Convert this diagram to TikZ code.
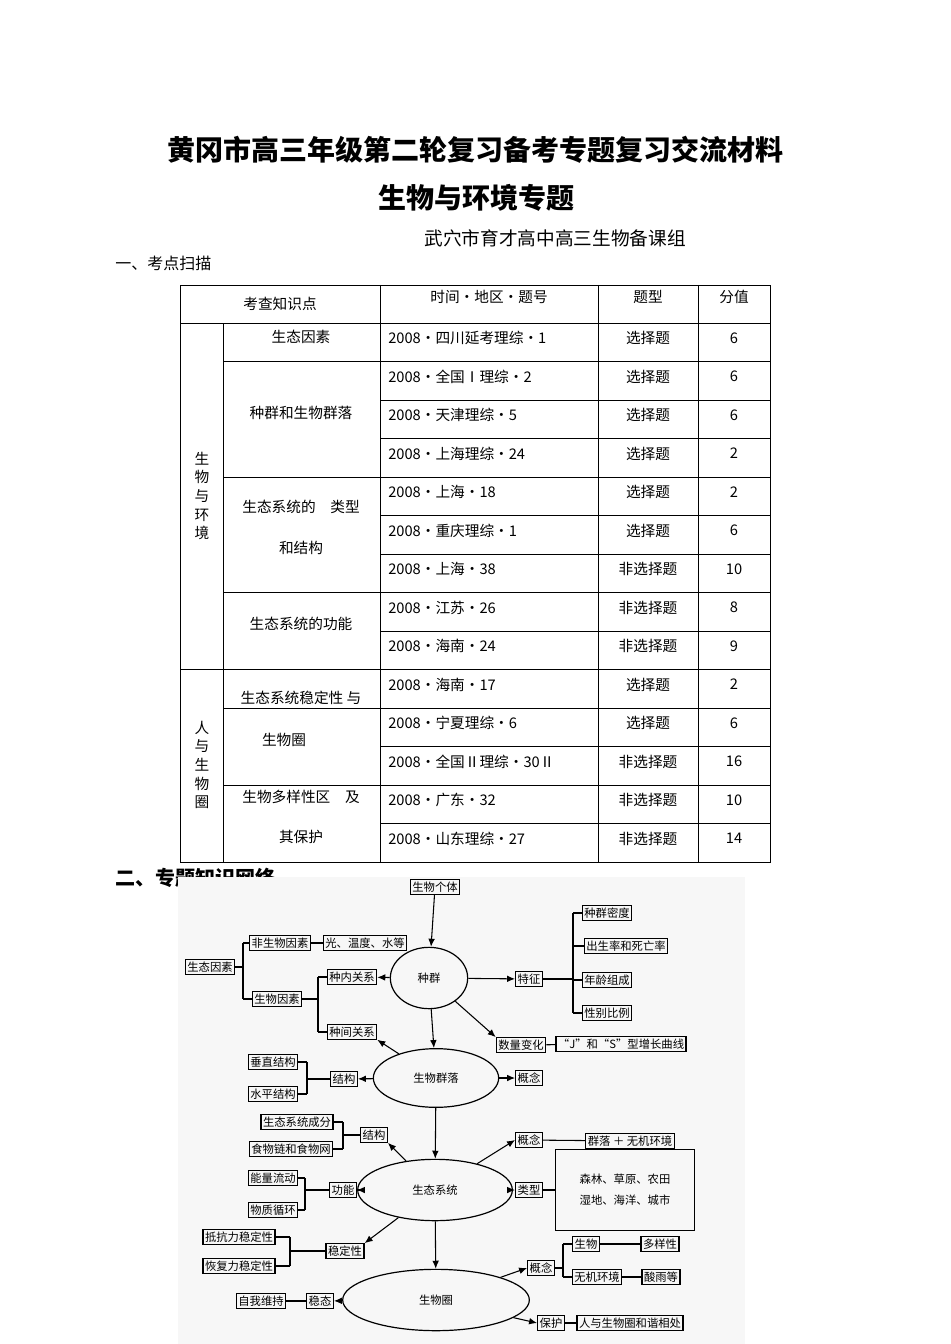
\documentclass[tikz,border=0pt]{standalone}
\usepackage{fontspec}
\setmainfont{Noto Sans CJK SC}
\usetikzlibrary{arrows.meta,shapes.geometric}
\begin{document}
\begin{tikzpicture}[x=0.75pt,y=-0.75pt,
  tb/.style={font=\fontsize{11}{13}\selectfont,inner sep=0pt},
  bx/.style={draw,line width=0.9pt,font=\fontsize{8.5}{10}\selectfont,inner sep=1.5pt},
  el/.style={draw,ellipse,line width=0.9pt,font=\fontsize{8.5}{10}\selectfont,inner sep=0pt},
  ar/.style={-{Latex[length=6pt,width=5pt]},line width=0.8pt},
  ln/.style={line width=0.8pt}]
\useasboundingbox (0,0) rectangle (950,1344);
% titles
\node[font=\fontsize{21}{24}\selectfont\bfseries] (t1) at (475,150) {黄冈市高三年级第二轮复习备考专题复习交流材料};
\node[font=\fontsize{21}{24}\selectfont\bfseries] (t2) at (476,198) {生物与环境专题};
\node[font=\fontsize{14}{16}\selectfont] (t3) at (555,238) {武穴市育才高中高三生物备课组};
\node[font=\fontsize{12}{14}\selectfont,anchor=west,inner sep=0pt] (t4) at (115,263) {一、考点扫描};
% table
\draw[line width=0.6pt] (180,285) rectangle (770,862);
\draw[line width=0.6pt] (180,323) -- (770,323);
\foreach \x in {380,598,698} \draw[line width=0.6pt] (\x,285) -- (\x,862);
\draw[line width=0.6pt] (223,323) -- (223,862);
\foreach \k in {1,...,13} \draw[line width=0.6pt] (380,{323+38.5*\k}) -- (770,{323+38.5*\k});
\foreach \k in {1,4,7} \draw[line width=0.6pt] (223,{323+38.5*\k}) -- (380,{323+38.5*\k});
\foreach \k in {10,12} \draw[line width=0.6pt] (223,{323+38.5*\k}) -- (380,{323+38.5*\k});
\draw[line width=0.6pt] (180,{323+38.5*9}) -- (380,{323+38.5*9});
\node[tb] (h1) at (280,304) {考查知识点};
\node[tb] (h2) at (489,297) {时间·地区·题号};
\node[tb] (h3) at (648,297) {题型};
\node[tb] (h4) at (734,297) {分值};
\node[tb,align=center,font=\fontsize{11}{14}\selectfont] (g1) at (202,496) {生\\物\\与\\环\\境};
\node[tb,align=center,font=\fontsize{11}{14}\selectfont] (g2) at (202,765) {人\\与\\生\\物\\圈};
\node[tb] (c1) at (301,337) {生态因素};
\node[tb] (c2) at (301,413) {种群和生物群落};
\node[tb] (c3) at (301,507) {生态系统的\quad 类型};
\node[tb] (c3b) at (301,548) {和结构};
\node[tb] (c4) at (301,624) {生态系统的功能};
\node[tb] (c5) at (301,698) {生态系统稳定性 与};
\node[tb] (c5b) at (284,740) {生物圈};
\node[tb] (c6) at (301,797) {生物多样性区\quad 及};
\node[tb] (c6b) at (301,837) {其保护};
\foreach \i/\a/\b/\c in {
 1/2008•四川延考理综•1/选择题/6,
 2/2008•全国Ⅰ理综•2/选择题/6,
 3/2008•天津理综•5/选择题/6,
 4/2008•上海理综•24/选择题/2,
 5/2008•上海•18/选择题/2,
 6/2008•重庆理综•1/选择题/6,
 7/2008•上海•38/非选择题/10,
 8/2008•江苏•26/非选择题/8,
 9/2008•海南•24/非选择题/9,
 10/2008•海南•17/选择题/2,
 11/2008•宁夏理综•6/选择题/6,
 12/2008•全国Ⅱ理综•30Ⅱ/非选择题/16,
 13/2008•广东•32/非选择题/10,
 14/2008•山东理综•27/非选择题/14} {
 \node[tb,anchor=west] (ra\i) at (388,{323+38.5*(\i-1)+15}) {\a};
 \node[tb] (rb\i) at (648,{323+38.5*(\i-1)+15}) {\b};
 \node[tb] (rc\i) at (734,{323+38.5*(\i-1)+15}) {\c};
}
% section 2
\node[font=\fontsize{15}{18}\selectfont\bfseries,anchor=west,inner sep=0pt] (s2) at (115,878) {二、专题知识网络};
\fill[gray!6] (178,877) rectangle (745,1344);
% mind map nodes
\node[bx] (gt) at (435,887) {生物个体};
\node[el,minimum width=58,minimum height=46] (zq) at (429,978) {种群};
\node[bx] (tz) at (529,979) {特征};
\node[bx] (md) at (607,913) {种群密度};
\node[bx] (cs) at (626,946) {出生率和死亡率};
\node[bx] (nl) at (607,980) {年龄组成};
\node[bx] (xb) at (607,1013) {性别比例};
\node[bx] (sl) at (521,1045) {数量变化};
\node[bx] (js) at (621,1044) {“J”和“S”型增长曲线};
\node[bx] (stys) at (210,967) {生态因素};
\node[bx] (fsw) at (280,943) {非生物因素};
\node[bx] (gw) at (365,943) {光、温度、水等};
\node[bx] (swys) at (277,999) {生物因素};
\node[bx] (zn) at (352,977) {种内关系};
\node[bx] (zj) at (352,1032) {种间关系};
\node[el,minimum width=94,minimum height=44] (ql) at (436,1078) {生物群落};
\node[bx] (gn1) at (529,1078) {概念};
\node[bx] (jg1) at (344,1079) {结构};
\node[bx] (cz) at (273,1062) {垂直结构};
\node[bx] (sp) at (273,1094) {水平结构};
\node[el,minimum width=116,minimum height=46] (xt) at (435,1190) {生态系统};
\node[bx] (jg2) at (374,1135) {结构};
\node[bx] (cf) at (297,1122) {生态系统成分};
\node[bx] (sw) at (291,1149) {食物链和食物网};
\node[bx] (gnn) at (343,1190) {功能};
\node[bx] (nlld) at (273,1178) {能量流动};
\node[bx] (wzxh) at (273,1210) {物质循环};
\node[bx] (wdx) at (345,1251) {稳定性};
\node[bx] (dk) at (239,1237) {抵抗力稳定性};
\node[bx] (hf) at (239,1266) {恢复力稳定性};
\node[bx] (gn2) at (529,1140) {概念};
\node[bx] (qlwj) at (630,1141) {群落 ＋ 无机环境};
\node[bx] (lx) at (529,1190) {类型};
\node[bx,align=center,minimum width=104,minimum height=61,font=\fontsize{8.5}{16}\selectfont] (sl2) at (625,1190) {森林、草原、农田\\湿地、海洋、城市};
\node[el,minimum width=140,minimum height=46] (swq) at (436,1300) {生物圈};
\node[bx] (wt) at (320,1301) {稳态};
\node[bx] (zw) at (261,1301) {自我维持};
\node[bx] (gn3) at (541,1268) {概念};
\node[bx] (swu) at (586,1244) {生物};
\node[bx] (dyx) at (660,1244) {多样性};
\node[bx] (wjhj) at (597,1277) {无机环境};
\node[bx] (sy) at (661,1277) {酸雨等};
\node[bx] (bh) at (551,1323) {保护};
\node[bx] (rsw) at (630,1323) {人与生物圈和谐相处};
% arrows
\draw[ar] (gt) -- (zq);
\draw[ar] (zq) -- (zn);
\draw[ar] (zq) -- (tz);
\draw[ar] (zq) -- (sl.north west);
\draw[ar] (zq) -- (ql);
\draw[ar] (ql) -- (zj.south east);
\draw[ar] (ql) -- (jg1);
\draw[ar] (ql) -- (gn1);
\draw[ar] (ql) -- (xt);
\draw[ar] (xt) -- (jg2.south east);
\draw[ar] (xt) -- (gnn);
\draw[ar] (xt) -- (wdx.north east);
\draw[ar] (xt) -- (gn2.west);
\draw[ar] (xt) -- (lx);
\draw[ar] (xt) -- (swq);
\draw[ar] (swq) -- (wt);
\draw[ar] (swq) -- (gn3.west);
\draw[ar] (swq) -- (bh.west);
% plain lines / brackets
\draw[ln] (tz.east) -- (573,979);
\draw[ln] (573,913) -- (573,1013);
\foreach \n in {md,cs,nl,xb} \draw[ln] (\n.west) -- (573,0 |- \n.west);
\draw[ln] (sl) -- (js);
\draw[ln] (stys.east) -- (243,967);
\draw[ln] (243,943) -- (243,999);
\draw[ln] (fsw.west) -- (243,943);
\draw[ln] (swys.west) -- (243,999);
\draw[ln] (fsw) -- (gw);
\draw[ln] (swys.east) -- (318,999);
\draw[ln] (318,977) -- (318,1032);
\draw[ln] (zn.west) -- (318,977);
\draw[ln] (zj.west) -- (318,1032);
\draw[ln] (jg1.west) -- (307,1079);
\draw[ln] (307,1062) -- (307,1094);
\draw[ln] (cz.east) -- (307,1062);
\draw[ln] (sp.east) -- (307,1094);
\draw[ln] (jg2.west) -- (343,1135);
\draw[ln] (343,1122) -- (343,1149);
\draw[ln] (cf.east) -- (343,1122);
\draw[ln] (sw.east) -- (343,1149);
\draw[ln] (gnn.west) -- (305,1190);
\draw[ln] (305,1178) -- (305,1210);
\draw[ln] (nlld.east) -- (305,1178);
\draw[ln] (wzxh.east) -- (305,1210);
\draw[ln] (wdx.west) -- (290,1251);
\draw[ln] (290,1237) -- (290,1266);
\draw[ln] (dk.east) -- (290,1237);
\draw[ln] (hf.east) -- (290,1266);
\draw[ln] (gn2) -- (qlwj);
\draw[ln] (lx) -- (sl2);
\draw[ln] (gn3.east) -- (563,1268);
\draw[ln] (563,1244) -- (563,1277);
\draw[ln] (swu.west) -- (563,1244);
\draw[ln] (wjhj.west) -- (563,1277);
\draw[ln] (swu) -- (dyx);
\draw[ln] (wjhj) -- (sy);
\draw[ln] (wt) -- (zw);
\draw[ln] (bh) -- (rsw);
\end{tikzpicture}
\end{document}
